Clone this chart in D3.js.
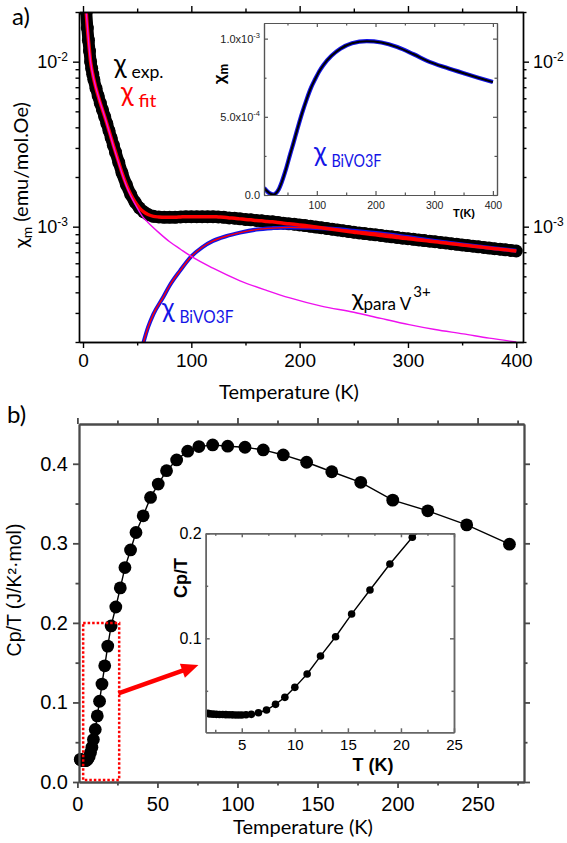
<!DOCTYPE html>
<html>
<head>
<meta charset="utf-8">
<script src="https://cdn.jsdelivr.net/npm/d3@7"></script>
<style>
  body { margin: 0; background: #fff; }
  svg { display: block; }
</style>
</head>
<body>
<svg id="chart" width="567" height="843"></svg>
<script>
// ---------- panel a data (emu/mol.Oe vs K)
const chiT = [2, 3, 4, 5, 6, 7, 8, 9, 10, 12, 14, 16, 18, 20, 22, 24, 26, 28, 30, 33, 36, 40, 44, 48, 52, 56, 60,
  65, 70, 75, 80, 85, 90, 95, 100, 105, 110, 115, 120, 125, 130, 135, 140, 145, 150, 155, 160, 165, 170, 175,
  180, 185, 190, 195, 200, 205, 210, 215, 220, 225, 230, 235, 240, 245, 250, 255, 260, 265, 270, 275, 280, 285,
  290, 295, 300, 305, 310, 315, 320, 325, 330, 335, 340, 345, 350, 355, 360, 365, 370, 375, 380, 385, 390, 395, 400];
const chiExp = [28e-3, 20e-3, 16e-3, 13.5e-3, 11.6e-3, 10e-3, 9.1e-3, 8.4e-3, 7.8e-3, 6.9e-3, 6.2e-3, 5.6e-3, 5.1e-3,
  4.65e-3, 4.22e-3, 3.82e-3, 3.45e-3, 3.12e-3, 2.83e-3, 2.45e-3, 2.12e-3, 1.8e-3, 1.57e-3, 1.41e-3, 1.3e-3, 1.23e-3, 1.185e-3,
  1.155e-3, 1.145e-3, 1.14e-3, 1.14e-3, 1.14e-3, 1.145e-3, 1.15e-3, 1.15e-3, 1.15e-3, 1.15e-3, 1.15e-3, 1.15e-3, 1.145e-3,
  1.14e-3, 1.13e-3, 1.125e-3, 1.115e-3, 1.105e-3, 1.10e-3, 1.09e-3, 1.085e-3, 1.075e-3, 1.07e-3, 1.06e-3, 1.05e-3, 1.04e-3,
  1.035e-3, 1.025e-3, 1.015e-3, 1.005e-3, 0.995e-3, 0.985e-3, 0.975e-3, 0.965e-3, 0.955e-3, 0.945e-3, 0.935e-3, 0.925e-3,
  0.917e-3, 0.908e-3, 0.90e-3, 0.892e-3, 0.884e-3, 0.876e-3, 0.868e-3, 0.86e-3, 0.852e-3, 0.845e-3, 0.838e-3, 0.831e-3,
  0.824e-3, 0.817e-3, 0.81e-3, 0.803e-3, 0.796e-3, 0.789e-3, 0.782e-3, 0.775e-3, 0.768e-3, 0.762e-3, 0.755e-3, 0.749e-3,
  0.742e-3, 0.736e-3, 0.73e-3, 0.724e-3, 0.718e-3, 0.712e-3];

const paraT = [3, 5, 7, 10, 15, 20, 30, 40, 50, 55, 60, 70, 80, 90, 100, 120, 145, 170, 191, 220, 250, 275, 301, 325, 351, 375, 400];
const chiPara = [20e-3, 13.5e-3, 10e-3, 7.8e-3, 5.9e-3, 4.65e-3, 2.8e-3, 1.77e-3, 1.3e-3, 1.15e-3, 1.06e-3, 9.2e-4, 8.1e-4,
  7.3e-4, 6.6e-4, 5.6e-4, 4.7e-4, 4.1e-4, 3.7e-4, 3.3e-4, 3.03e-4, 2.78e-4, 2.55e-4, 2.38e-4, 2.24e-4, 2.11e-4, 2.0e-4];

const bivoT = [55, 60, 65, 74, 80, 89.5, 100, 110, 120, 132, 145, 160, 175, 191, 210, 230, 250, 275, 300, 325, 350, 375, 400];
const chiBivo = [1.9e-4, 2.45e-4, 2.95e-4, 3.73e-4, 4.4e-4, 5.4e-4, 6.6e-4, 7.5e-4, 8.2e-4, 8.75e-4, 9.2e-4, 9.6e-4, 9.8e-4,
  9.9e-4, 9.85e-4, 9.7e-4, 9.45e-4, 9.1e-4, 8.65e-4, 8.2e-4, 7.8e-4, 7.45e-4, 7.15e-4];

// inset of panel a (linear scale)
const insetT = [10, 15, 20, 25.5, 30, 35, 40, 47, 54.5, 60, 66, 75, 83, 90, 97, 104, 111, 125, 140, 160, 185, 210, 237, 265, 293, 320, 349, 375, 400];
const insetChi = [0.45e-4, 0.25e-4, 0.1e-4, 0.03e-4, 0.1e-4, 0.35e-4, 0.8e-4, 1.6e-4, 2.6e-4, 3.3e-4, 4.1e-4, 5.25e-4, 6.15e-4,
  6.85e-4, 7.4e-4, 7.9e-4, 8.3e-4, 8.9e-4, 9.35e-4, 9.7e-4, 9.84e-4, 9.75e-4, 9.46e-4, 9.0e-4, 8.5e-4, 8.15e-4, 7.8e-4, 7.5e-4, 7.22e-4];

// ---------- panel b data (J/K^2.mol vs K)
const cpT = [1.8, 2.0, 2.3, 2.6, 2.9, 3.2, 3.5, 3.8, 4.1, 4.4, 4.7, 5.0, 5.4, 5.9, 6.57, 7.33, 8.18, 9.06, 10.0, 11.16,
  12.42, 13.84, 15.35, 17.08, 18.96, 21.07, 24.0, 26.8, 29.7, 33.2, 36.6, 41.1, 45.7, 50.5, 55.7, 62.0, 68.9, 75.9, 84.5,
  93.9, 104.7, 116.1, 128.6, 143.2, 158.9, 177.0, 197.0, 218.9, 243.2, 269.9];
const cpOverT = [0.0285, 0.028, 0.0278, 0.0276, 0.0275, 0.0274, 0.0273, 0.0272, 0.0271, 0.027, 0.027, 0.027, 0.0272,
  0.0276, 0.0291, 0.0317, 0.0371, 0.0438, 0.0533, 0.066, 0.0831, 0.1015, 0.1231, 0.146, 0.1708, 0.1962, 0.220, 0.244,
  0.2695, 0.2917, 0.3136, 0.3346, 0.3577, 0.3745, 0.3913, 0.4048, 0.4158, 0.4216, 0.4237, 0.4221, 0.4208, 0.4174, 0.4111,
  0.4019, 0.390, 0.3767, 0.3543, 0.3409, 0.3232, 0.2989];

// zoom box and arrow in panel b (data units)
const zoomBox = { t0: 3.6, t1: 26.1, c0: 0.0025, c1: 0.2 };
const arrowFrom = [25.6, 0.1115], arrowTo = [75.6, 0.147];

const SANS = "'Liberation Sans', Arial, sans-serif";
const CAL = "Lato, 'Open Sans', sans-serif";
const RED = '#ff0000', BLUE = '#1414e6', MAGENTA = '#ee10ee';

const svg = d3.select('#chart');
const zip = (xs, ys) => xs.map((x, i) => [x, ys[i]]);

// draws a minor + major axis pair, returns the major group
function axis(parent, gen, scale, pos, major, minor, big, small, fmt, pad, st) {
  const g = parent.append('g').attr('transform', `translate(${pos})`);
  g.call(gen(scale).tickValues(minor).tickSizeInner(small).tickSizeOuter(0).tickFormat(() => ''));
  const m = g.append('g').call(gen(scale).tickValues(major).tickSizeInner(big).tickSizeOuter(0)
    .tickPadding(pad).tickFormat(fmt || (() => '')));
  g.selectAll('path,line').attr('stroke', st.color).attr('stroke-width', st.width);
  g.selectAll('text').attr('font-family', st.font).attr('font-size', st.size).attr('fill', st.text || '#000');
  return m;
}

// 10^n labels
function decade(m, supSize) {
  m.selectAll('.tick text').each(function (d) {
    const t = d3.select(this).text('');
    t.append('tspan').text('10');
    t.append('tspan').attr('dy', '-0.6em').attr('font-size', supSize).text(Math.round(Math.log10(d)));
  });
}

// ================= PANEL A =================
const xA = d3.scaleLinear().domain([-3.7, 406.2]).range([79, 523]);
const yA = d3.scaleLog().domain([2e-4, 2e-2]).range([342, 12]);
const gA = svg.append('g');

svg.append('clipPath').attr('id', 'clipA').append('rect')
  .attr('x', 79).attr('y', 12).attr('width', 444).attr('height', 330);
const plotA = gA.append('g').attr('clip-path', 'url(#clipA)');

const lineA = d3.line().x(d => xA(d[0])).y(d => yA(d[1])).curve(d3.curveMonotoneX);
const expPts = zip(chiT, chiExp);

// measured chi: dense black circles
plotA.append('path').attr('d', lineA(expPts)).attr('fill', 'none').attr('stroke', '#000')
  .attr('stroke-width', 12).attr('stroke-linejoin', 'round');
plotA.selectAll('circle.exp').data(expPts).enter().append('circle')
  .attr('cx', d => xA(d[0])).attr('cy', d => yA(d[1])).attr('r', 6.5).attr('fill', '#000');

// BiVO3F contribution: blue with red centre
plotA.append('path').attr('d', lineA(zip(bivoT, chiBivo))).attr('fill', 'none')
  .attr('stroke', BLUE).attr('stroke-width', 4);
plotA.append('path').attr('d', lineA(zip(bivoT, chiBivo))).attr('fill', 'none')
  .attr('stroke', RED).attr('stroke-width', 1.4);

// fit (follows the data)
plotA.append('path').attr('d', lineA(expPts)).attr('fill', 'none').attr('stroke', RED).attr('stroke-width', 3.5);

// paramagnetic V3+ part
plotA.append('path').attr('d', lineA(zip(paraT, chiPara))).attr('fill', 'none')
  .attr('stroke', MAGENTA).attr('stroke-width', 1.4);

const stA = { color: '#000', width: 1.4, font: SANS, size: 19 };
const logMinor = [];
[1e-4, 1e-3].forEach(b => d3.range(2, 10).forEach(k => logMinor.push(k * b)));
logMinor.push(2e-2);

axis(gA, d3.axisBottom, xA, '0,342', [0, 100, 200, 300, 400], [50, 150, 250, 350], 6, 3.5, d3.format('d'), 6, stA);
axis(gA, d3.axisTop, xA, '0,12', [0, 100, 200, 300, 400], [50, 150, 250, 350], 6, 3.5, null, 6, stA);
decade(axis(gA, d3.axisLeft, yA, '79,0', [1e-3, 1e-2], logMinor, 6, 3.5, d => '', 5, { ...stA, size: 18 }), 12);
decade(axis(gA, d3.axisRight, yA, '523,0', [1e-3, 1e-2], logMinor, 6, 3.5, d => '', 4, { ...stA, size: 18 }), 12);

// axis titles
const yTitleA = gA.append('text').attr('transform', 'translate(28,175) rotate(-90)')
  .attr('text-anchor', 'middle').attr('font-family', CAL).attr('font-size', 20);
yTitleA.append('tspan').text('χ');
yTitleA.append('tspan').attr('font-size', 14).attr('dy', 4).text('m');
yTitleA.append('tspan').attr('dy', -4).text(' (emu/mol.Oe)');
gA.append('text').attr('x', 289).attr('y', 399).attr('text-anchor', 'middle')
  .attr('font-family', CAL).attr('font-size', 20).text('Temperature (K)');
gA.append('text').attr('x', 12).attr('y', 25).attr('font-family', CAL).attr('font-size', 24).text('a)');

// curve labels
function chiLabel(parent, x, y, sub, color, subDy, subLen) {
  const t = parent.append('text').attr('x', x).attr('y', y).attr('font-family', CAL).attr('fill', color);
  t.append('tspan').attr('font-size', 26).text('χ');
  t.append('tspan').attr('font-size', 18).attr('dx', 5).attr('dy', subDy)
    .attr('textLength', subLen).attr('lengthAdjust', 'spacingAndGlyphs').text(sub);
  return t;
}
chiLabel(gA, 114, 73, 'exp.', '#000', 5, 32);
chiLabel(gA, 121, 101, 'fit', RED, 6, 18);
chiLabel(gA, 162, 317, 'BiVO3F', BLUE, 6, 54);

const paraLbl = gA.append('text').attr('x', 352).attr('y', 306).attr('font-family', CAL);
paraLbl.append('tspan').attr('font-size', 24).text('χ');
paraLbl.append('tspan').attr('font-size', 17).attr('dy', 4).text('para V');
paraLbl.append('tspan').attr('font-size', 15).attr('dy', -13).attr('dx', 2).text('3+');

// ---------- inset of panel a
const xI = d3.scaleLinear().domain([10, 407]).range([264, 497]);
const yI = d3.scaleLinear().domain([0, 1.1e-3]).range([195, 23]);
const gI = svg.append('g');
gI.append('rect').attr('x', 264).attr('y', 23).attr('width', 233).attr('height', 172).attr('fill', '#fff');
svg.append('clipPath').attr('id', 'clipI').append('rect')
  .attr('x', 264).attr('y', 23).attr('width', 233).attr('height', 172);
const lineI = d3.line().x(d => xI(d[0])).y(d => yI(d[1])).curve(d3.curveMonotoneX);
const plotI = gI.append('g').attr('clip-path', 'url(#clipI)');
plotI.append('path').attr('d', lineI(zip(insetT, insetChi))).attr('fill', 'none').attr('stroke', BLUE).attr('stroke-width', 4.2);
plotI.append('path').attr('d', lineI(zip(insetT, insetChi))).attr('fill', 'none').attr('stroke', '#000').attr('stroke-width', 2);

const stI = { color: '#555', width: 1.2, font: SANS, size: 10.5, text: '#222' };
const sciFmt = d => {
  if (d === 0) return '0.0';
  const e = Math.floor(Math.log10(d) + 1e-9);
  return (d / Math.pow(10, e)).toFixed(1) + 'x10|' + e;
};
axis(gI, d3.axisBottom, xI, '0,195', [100, 200, 300, 400], [50, 150, 250, 350], -4, -2.5, d3.format('d'), 7, stI);
axis(gI, d3.axisTop, xI, '0,23', [100, 200, 300, 400], [50, 150, 250, 350], -4, -2.5, null, 6, stI);
const yIax = axis(gI, d3.axisLeft, yI, '264,0', [0, 5e-4, 1e-3], [2.5e-4, 7.5e-4], -4, -2.5, sciFmt, 4, { ...stI, size: 11 });
yIax.selectAll('.tick text').each(function () {
  const t = d3.select(this), parts = t.text().split('|');
  if (parts.length < 2) return;
  t.text('');
  t.append('tspan').text(parts[0]);
  t.append('tspan').attr('dy', '-0.6em').attr('font-size', 7.5).text(parts[1]);
});
axis(gI, d3.axisRight, yI, '497,0', [0, 5e-4, 1e-3], [2.5e-4, 7.5e-4], -4, -2.5, null, 4, stI);

gI.append('text').attr('x', 453).attr('y', 217).attr('font-family', SANS).attr('font-weight', 'bold')
  .attr('font-size', 11).text('T(K)');
const yTitleI = gI.append('text').attr('transform', 'translate(225,74) rotate(-90)').attr('text-anchor', 'middle')
  .attr('font-family', SANS).attr('font-weight', 'bold').attr('font-size', 17);
yTitleI.append('tspan').text('χ');
yTitleI.append('tspan').attr('font-size', 12).attr('dy', 3).text('m');
chiLabel(gI, 314, 161, 'BiVO3F', BLUE, 6, 50);

// ================= PANEL B =================
const xB = d3.scaleLinear().domain([1, 279]).range([79, 524]);
const yB = d3.scaleLinear().domain([0, 0.45]).range([782, 424]);
const gB = svg.append('g');
const cpPts = zip(cpT, cpOverT);
const lineB = d3.line().x(d => xB(d[0])).y(d => yB(d[1]));

gB.append('path').attr('d', lineB(cpPts)).attr('fill', 'none').attr('stroke', '#000').attr('stroke-width', 1.4);
gB.selectAll('circle.cp').data(cpPts).enter().append('circle')
  .attr('cx', d => xB(d[0])).attr('cy', d => yB(d[1])).attr('r', 6.4).attr('fill', '#000');

const stB = { color: '#4a4a4a', width: 1.8, font: SANS, size: 20 };
axis(gB, d3.axisBottom, xB, '0,782', [0, 50, 100, 150, 200, 250], [25, 75, 125, 175, 225, 275], 6, 3.5, d3.format('d'), 9, stB);
axis(gB, d3.axisTop, xB, '0,424', [0, 50, 100, 150, 200, 250], [25, 75, 125, 175, 225, 275], 6, 3.5, null, 6, stB);
axis(gB, d3.axisLeft, yB, '79,0', [0, 0.1, 0.2, 0.3, 0.4], [0.05, 0.15, 0.25, 0.35], 6, 3.5, d3.format('.1f'), 5, stB);
axis(gB, d3.axisRight, yB, '524,0', [0, 0.1, 0.2, 0.3, 0.4], [0.05, 0.15, 0.25, 0.35], 6, 3.5, null, 5, stB);

gB.append('text').attr('transform', 'translate(21,590) rotate(-90)').attr('text-anchor', 'middle')
  .attr('font-family', SANS).attr('font-size', 19.5).text('Cp/T (J/K²·mol)');
gB.append('text').attr('x', 303).attr('y', 834).attr('text-anchor', 'middle')
  .attr('font-family', CAL).attr('font-size', 20).text('Temperature (K)');
gB.append('text').attr('x', 7).attr('y', 423).attr('font-family', CAL).attr('font-size', 24).text('b)');

// dotted zoom box
gB.append('rect')
  .attr('x', xB(zoomBox.t0)).attr('y', yB(zoomBox.c1))
  .attr('width', xB(zoomBox.t1) - xB(zoomBox.t0)).attr('height', yB(zoomBox.c0) - yB(zoomBox.c1))
  .attr('fill', 'none').attr('stroke', RED).attr('stroke-width', 2.5).attr('stroke-dasharray', '2.5,2');

// arrow
{
  const p0 = [xB(arrowFrom[0]), yB(arrowFrom[1])], p1 = [xB(arrowTo[0]), yB(arrowTo[1])];
  const L = Math.hypot(p1[0] - p0[0], p1[1] - p0[1]);
  const u = [(p1[0] - p0[0]) / L, (p1[1] - p0[1]) / L], n = [-u[1], u[0]];
  const hl = 17, hw = 7.5;
  const b = [p1[0] - u[0] * hl, p1[1] - u[1] * hl];
  gB.append('line').attr('x1', p0[0]).attr('y1', p0[1]).attr('x2', b[0] + u[0]).attr('y2', b[1] + u[1])
    .attr('stroke', RED).attr('stroke-width', 4.5);
  gB.append('path').attr('fill', RED)
    .attr('d', `M${p1[0]},${p1[1]}L${b[0] + n[0] * hw},${b[1] + n[1] * hw}L${b[0] - n[0] * hw},${b[1] - n[1] * hw}Z`);
}

// ---------- inset of panel b
const xJ = d3.scaleLinear().domain([1.6, 25]).range([205.7, 454]);
const yJ = d3.scaleLinear().domain([0.0105, 0.2]).range([732.3, 533.3]);
const gJ = svg.append('g');
gJ.append('rect').attr('x', 205.7).attr('y', 533.3).attr('width', 248.3).attr('height', 199).attr('fill', '#fff');
svg.append('clipPath').attr('id', 'clipJ').append('rect')
  .attr('x', 205.7).attr('y', 533.3).attr('width', 248.3).attr('height', 199);
const plotJ = gJ.append('g').attr('clip-path', 'url(#clipJ)');
const lowPts = cpPts.filter(d => d[0] <= 25);
plotJ.append('path').attr('d', d3.line().x(d => xJ(d[0])).y(d => yJ(d[1]))(lowPts))
  .attr('fill', 'none').attr('stroke', '#000').attr('stroke-width', 1.4);
plotJ.selectAll('circle').data(lowPts).enter().append('circle')
  .attr('cx', d => xJ(d[0])).attr('cy', d => yJ(d[1])).attr('r', 3.8).attr('fill', '#000');

const stJ = { color: '#666', width: 1.5, font: SANS, size: 15 };
axis(gJ, d3.axisBottom, xJ, '0,732.3', [5, 10, 15, 20, 25], [2.5, 7.5, 12.5, 17.5, 22.5], -4, -2.5, d3.format('d'), 7.5, stJ);
axis(gJ, d3.axisTop, xJ, '0,533.3', [5, 10, 15, 20, 25], [2.5, 7.5, 12.5, 17.5, 22.5], -4, -2.5, null, 6, stJ);
axis(gJ, d3.axisLeft, yJ, '205.7,0', [0.1, 0.2], [0.05, 0.15], -4, -2.5, d3.format('.1f'), 4, { ...stJ, size: 16 });
axis(gJ, d3.axisRight, yJ, '454,0', [0.1, 0.2], [0.05, 0.15], -4, -2.5, null, 4, stJ);

gJ.append('text').attr('x', 373).attr('y', 771).attr('text-anchor', 'middle').attr('font-family', SANS)
  .attr('font-weight', 'bold').attr('font-size', 18).text('T (K)');
gJ.append('text').attr('transform', 'translate(187,578) rotate(-90)').attr('text-anchor', 'middle')
  .attr('font-family', SANS).attr('font-weight', 'bold').attr('font-size', 18).text('Cp/T');
</script>
</body>
</html>
